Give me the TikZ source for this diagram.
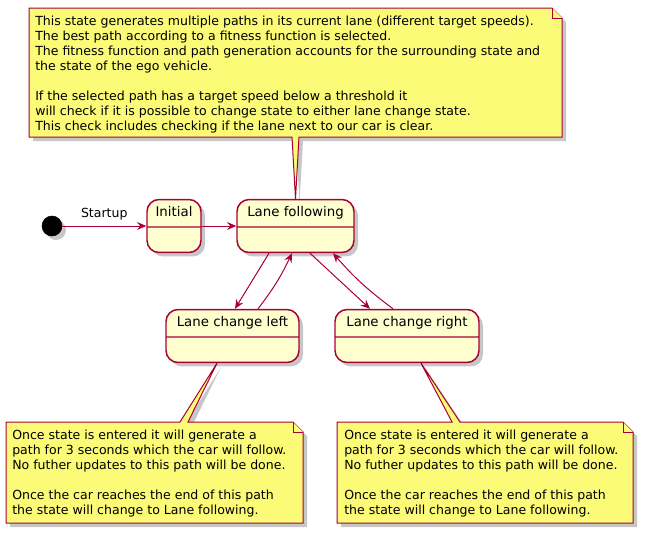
\documentclass[tikz,border=0pt]{standalone}
\usepackage{fontspec}
\setmainfont{DejaVu Sans}
\usetikzlibrary{positioning}
\usetikzlibrary{calc}
\usetikzlibrary{arrows.meta}
\usetikzlibrary{shapes.multipart}
\usetikzlibrary{backgrounds}
\definecolor{umlred}{HTML}{A80036}
\definecolor{statefill}{HTML}{FEFECE}
\definecolor{notefill}{HTML}{FBFB77}
\tikzstyle{dropshade} = [preaction={fill=black, opacity=0.22, transform canvas={shift={(3pt,-3pt)}}}]
\tikzstyle{state} = [rectangle split, rectangle split parts=2, draw=umlred, fill=statefill, line width=1.1pt, rounded corners=9pt, inner xsep=4pt, inner ysep=4.75pt, text height=7.6pt, text depth=2.4pt, rectangle split empty part height=8.5pt, rectangle split empty part depth=0pt, font=\fontsize{10}{12}\selectfont, dropshade]
\tikzstyle{startdot} = [draw, circle, fill=black, minimum size=15pt, inner sep=0pt, dropshade]
\tikzstyle{trans} = [draw=umlred, line width=0.75pt, -{Stealth[length=7pt,width=6pt,inset=2.5pt]}]
\tikzstyle{note} = [draw=umlred, fill=notefill, line width=0.75pt]
\tikzstyle{notetext} = [align=left, inner sep=0pt, anchor=north west, font=\fontsize{9.4}{11.25}\selectfont]

\begin{document}
\begin{tikzpicture}[x=0.75pt,y=-0.75pt]
    \useasboundingbox (0,0) rectangle (654,533);
    \node [startdot] (start) at (52,226) {};
    \node [state, minimum width=40.5pt] (init) at (174,226) {Initial \nodepart{two}};
    \node [state, minimum width=87.75pt] (lf) at (295.5,226) {Lane following \nodepart{two}};
    \node [state, minimum width=99.75pt] (lcl) at (232.5,336) {Lane change left \nodepart{two}};
    \node [state, minimum width=108pt] (lcr) at (407,336) {Lane change right \nodepart{two}};

    \draw [trans] (start) -- node[above=1pt, font=\fontsize{9.4}{11}\selectfont] (startup) {Startup} (init);
    \draw [trans] (init) -- (lf);
    \draw [trans] ($(lf.south)+(-26.5,0)$) -- ($(lcl.north)+(2.5,0)$);
    \draw [trans] ($(lcl.north)+(25.5,0)$) to[bend right=6] ($(lf.south)+(-3.5,0)$);
    \draw [trans] ($(lf.south)+(14.5,0)$) -- ($(lcr.north)+(-37,0)$);
    \draw [trans] ($(lcr.north)+(-14,0)$) to[bend left=6] ($(lf.south)+(37.5,0)$);

    % notes
    \begin{scope}[on background layer]
    \draw [note, dropshade] (29,8) -- (552,8) -- (562,18) -- (562,137) -- (299,137) -- (lf.north) -- (292,137) -- (29,137) -- cycle;
    \draw [note] (552,8) -- (552,18) -- (562,18);
    \draw [note, dropshade] (6,422) -- (180,422) -- ($(lcl.south)+(-15.5,0)$) -- (188,422) -- (293,422) -- (303,432) -- (303,523) -- (6,523) -- cycle;
    \draw [note] (293,422) -- (293,432) -- (303,432);
    \draw [note, dropshade] (337,422) -- (452,422) -- ($(lcr.south)+(14,0)$) -- (460,422) -- (623,422) -- (633,432) -- (633,523) -- (337,523) -- cycle;
    \draw [note] (623,422) -- (623,432) -- (633,432);
    \end{scope}

    \node [notetext] (topnote) at (35,15.5) {This state generates multiple paths in its current lane (different target speeds).\\
        The best path according to a fitness function is selected.\\
        The fitness function and path generation accounts for the surrounding state and\\
        the state of the ego vehicle.\\[11.25pt]
        If the selected path has a target speed below a threshold it\\
        will check if it is possible to change state to either lane change state.\\
        This check includes checking if the lane next to our car is clear.};
    \node [notetext] (leftnote) at (12,429.5) {Once state is entered it will generate a\\
        path for 3 seconds which the car will follow.\\
        No futher updates to this path will be done.\\[11.25pt]
        Once the car reaches the end of this path\\
        the state will change to Lane following.};
    \node [notetext] (rightnote) at (344,429.5) {Once state is entered it will generate a\\
        path for 3 seconds which the car will follow.\\
        No futher updates to this path will be done.\\[11.25pt]
        Once the car reaches the end of this path\\
        the state will change to Lane following.};
\end{tikzpicture}
\end{document}
